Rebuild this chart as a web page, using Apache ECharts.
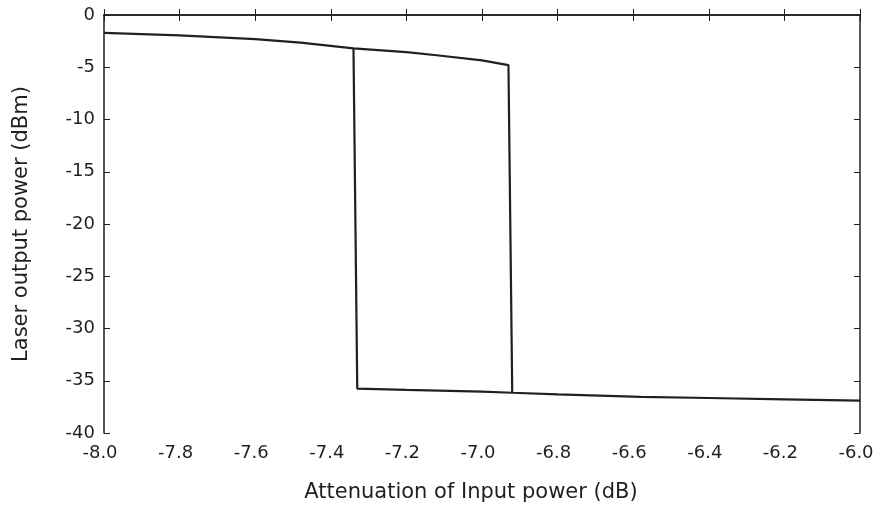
<!DOCTYPE html>
<html>
<head>
<meta charset="utf-8">
<script src="https://cdn.jsdelivr.net/npm/echarts@6/dist/echarts.min.js"></script>
<style>html,body{margin:0;padding:0;background:#fff}#c{width:875px;height:506px}</style>
</head>
<body>
<div id="c"></div>
<script>
// Forward sweep (increasing attenuation): upper branch then drop to lower branch
const forwardX = [-8.0, -7.8, -7.6, -7.48, -7.34, -7.2, -7.12, -7.0, -6.93, -6.92, -6.8, -6.58, -6.4, -6.2, -6.0];
const forwardY = [-1.72, -1.95, -2.3, -2.65, -3.2, -3.55, -3.85, -4.35, -4.8, -36.15, -36.3, -36.55, -36.65, -36.78, -36.9];
// Backward sweep: lower branch from the drop point back to the jump up
const backwardX = [-6.92, -7.0, -7.2, -7.33, -7.34];
const backwardY = [-36.15, -36.05, -35.88, -35.75, -3.2];
const xTicks = [-8.0, -7.8, -7.6, -7.4, -7.2, -7.0, -6.8, -6.6, -6.4, -6.2, -6.0];
const yTicks = [0, -5, -10, -15, -20, -25, -30, -35, -40];

const pairs = (xs, ys) => xs.map((x, i) => [x, ys[i]]);
const font = 'DejaVu Sans';
const ink = '#231f20';
const axisLine = { show: true, lineStyle: { color: ink, width: 1.5 } };
const tick = { show: true, inside: true, length: 6, lineStyle: { color: ink } };
const chart = echarts.init(document.getElementById('c'));
chart.setOption({
  animation: false,
  backgroundColor: '#fff',
  grid: { left: 104, right: 15, top: 15, bottom: 73, containLabel: false, outerBoundsMode: 'none' },
  xAxis: [{
    type: 'value', min: -8, max: -6, interval: 0.2, position: 'bottom',
    name: 'Attenuation of Input power (dB)', nameLocation: 'middle', nameGap: 49,
    nameTextStyle: { fontFamily: font, fontSize: 21, color: ink, padding: [0, 22, 0, 0] },
    axisLine: axisLine, axisTick: tick,
    axisLabel: { fontFamily: font, fontSize: 18, color: ink, margin: 11, padding: [0, 8, 0, 0],
      formatter: v => v.toFixed(1) },
    splitLine: { show: false }
  }, {
    type: 'value', min: -8, max: -6, interval: 0.2, position: 'top',
    axisLine: axisLine, axisTick: tick,
    axisLabel: { show: false }, splitLine: { show: false }
  }],
  yAxis: [{
    type: 'value', min: -40, max: 0, interval: 5, position: 'left',
    name: 'Laser output power (dBm)', nameLocation: 'middle', nameGap: 72, nameRotate: 90,
    nameTextStyle: { fontFamily: font, fontSize: 21, color: ink },
    axisLine: axisLine, axisTick: tick,
    axisLabel: { fontFamily: font, fontSize: 18, color: ink, margin: 9 },
    splitLine: { show: false }
  }, {
    type: 'value', min: -40, max: 0, interval: 5, position: 'right',
    axisLine: axisLine, axisTick: tick,
    axisLabel: { show: false }, splitLine: { show: false }
  }],
  series: [{
    type: 'line', data: pairs(forwardX, forwardY), showSymbol: false, smooth: false,
    lineStyle: { color: ink, width: 2.2 }, xAxisIndex: 0, yAxisIndex: 0
  }, {
    type: 'line', data: pairs(backwardX, backwardY), showSymbol: false, smooth: false,
    lineStyle: { color: ink, width: 2.2 }, xAxisIndex: 0, yAxisIndex: 0
  }]
});
</script>
</body>
</html>
